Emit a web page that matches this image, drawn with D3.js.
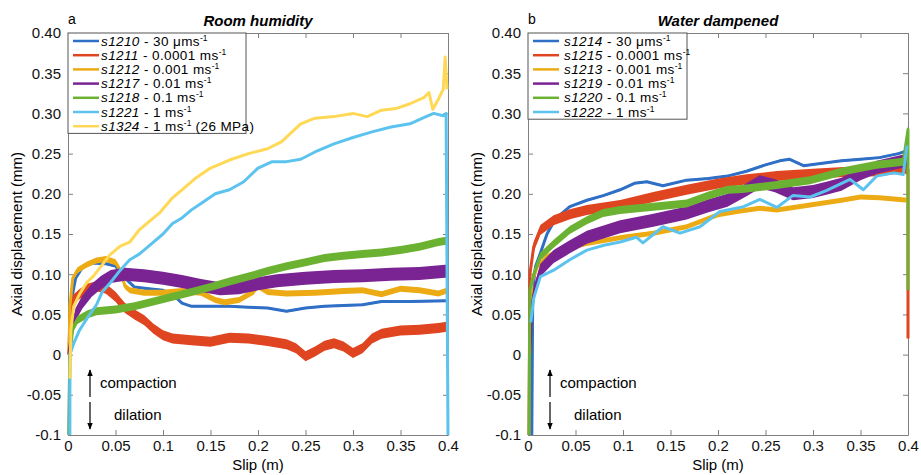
<!DOCTYPE html>
<html>
<head>
<meta charset="utf-8">
<script src="https://cdn.jsdelivr.net/npm/d3@7"></script>
<style>
  body { margin: 0; background: #fff; }
  svg { font-family: "Liberation Sans", Arial, Helvetica, sans-serif; }
</style>
</head>
<body>
<svg id="chart" width="921" height="475"></svg>
<script>
// ---- axis ticks ----
const xTicks = [0, 0.05, 0.1, 0.15, 0.2, 0.25, 0.3, 0.35, 0.4];
const xTickLabels = ["0", "0.05", "0.1", "0.15", "0.2", "0.25", "0.3", "0.35", "0.4"];
const yTicks = [-0.1, -0.05, 0, 0.05, 0.1, 0.15, 0.2, 0.25, 0.3, 0.35, 0.4];
const yTickLabels = ["-0.1", "-0.05", "0", "0.05", "0.10", "0.15", "0.20", "0.25", "0.30", "0.35", "0.40"];

// ---- panel a: room humidity  [slip (m), axial displacement (mm)] ----
const s1210 = [[0.001,-0.1],[0.002,0.03],[0.004,0.07],[0.008,0.095],[0.015,0.108],[0.025,0.114],[0.04,0.113],[0.05,0.11],[0.06,0.095],[0.07,0.084],[0.085,0.082],[0.1,0.08],[0.11,0.075],[0.12,0.064],[0.13,0.06],[0.15,0.06],[0.17,0.06],[0.19,0.059],[0.21,0.058],[0.23,0.054],[0.25,0.058],[0.27,0.06],[0.29,0.061],[0.31,0.062],[0.33,0.066],[0.36,0.066],[0.4,0.067]];
const s1211 = [[0.001,0],[0.002,0.05],[0.005,0.068],[0.012,0.075],[0.02,0.082],[0.03,0.085],[0.04,0.082],[0.05,0.072],[0.06,0.058],[0.07,0.05],[0.08,0.043],[0.09,0.032],[0.1,0.024],[0.11,0.02],[0.13,0.018],[0.15,0.016],[0.17,0.021],[0.19,0.02],[0.21,0.017],[0.23,0.013],[0.24,0.008],[0.25,-0.002],[0.26,0.004],[0.27,0.011],[0.28,0.014],[0.29,0.01],[0.3,0.002],[0.31,0.008],[0.32,0.02],[0.33,0.026],[0.35,0.03],[0.37,0.031],[0.39,0.033],[0.4,0.035]];
const s1212 = [[0.001,0],[0.002,0.06],[0.005,0.095],[0.01,0.105],[0.02,0.112],[0.03,0.117],[0.04,0.119],[0.05,0.115],[0.055,0.105],[0.06,0.085],[0.065,0.08],[0.08,0.077],[0.1,0.077],[0.12,0.079],[0.14,0.077],[0.155,0.068],[0.165,0.065],[0.18,0.068],[0.195,0.078],[0.2,0.085],[0.21,0.078],[0.23,0.076],[0.26,0.077],[0.29,0.079],[0.31,0.08],[0.33,0.075],[0.35,0.082],[0.37,0.08],[0.39,0.076],[0.4,0.08]];
const s1217 = [[0.001,0],[0.004,0.03],[0.008,0.05],[0.015,0.065],[0.025,0.08],[0.035,0.09],[0.045,0.097],[0.06,0.1],[0.08,0.098],[0.1,0.095],[0.12,0.091],[0.14,0.086],[0.16,0.082],[0.18,0.083],[0.2,0.088],[0.22,0.092],[0.25,0.095],[0.28,0.097],[0.31,0.098],[0.34,0.1],[0.37,0.101],[0.4,0.104]];
const s1218 = [[0.001,-0.1],[0.002,0],[0.005,0.032],[0.01,0.043],[0.02,0.05],[0.03,0.054],[0.05,0.056],[0.07,0.06],[0.09,0.066],[0.11,0.072],[0.13,0.078],[0.15,0.084],[0.17,0.091],[0.19,0.097],[0.21,0.104],[0.23,0.11],[0.25,0.115],[0.27,0.12],[0.29,0.123],[0.31,0.125],[0.33,0.127],[0.35,0.13],[0.37,0.134],[0.39,0.14],[0.4,0.142]];
const s1221 = [[0.002,-0.1],[0.002,0],[0.006,0.014],[0.012,0.03],[0.02,0.045],[0.03,0.062],[0.036,0.078],[0.045,0.09],[0.055,0.105],[0.065,0.118],[0.075,0.125],[0.085,0.135],[0.1,0.15],[0.11,0.163],[0.12,0.17],[0.13,0.18],[0.14,0.188],[0.155,0.2],[0.17,0.205],[0.185,0.215],[0.2,0.232],[0.215,0.24],[0.23,0.24],[0.245,0.243],[0.26,0.252],[0.28,0.262],[0.3,0.27],[0.32,0.277],[0.34,0.283],[0.36,0.287],[0.375,0.295],[0.385,0.3],[0.395,0.297],[0.398,0.3],[0.4,-0.1]];
const s1324 = [[0.002,-0.03],[0.003,0.03],[0.006,0.06],[0.012,0.075],[0.02,0.09],[0.027,0.098],[0.035,0.11],[0.044,0.124],[0.055,0.135],[0.065,0.14],[0.075,0.155],[0.085,0.165],[0.097,0.177],[0.11,0.195],[0.12,0.205],[0.135,0.22],[0.15,0.232],[0.17,0.242],[0.19,0.25],[0.21,0.256],[0.225,0.265],[0.235,0.276],[0.245,0.287],[0.26,0.294],[0.28,0.296],[0.3,0.3],[0.315,0.296],[0.33,0.304],[0.345,0.306],[0.36,0.312],[0.375,0.32],[0.38,0.326],[0.384,0.305],[0.39,0.318],[0.395,0.33],[0.397,0.37],[0.399,0.33]];

const roomNames = ["s1210", "s1211", "s1212", "s1217", "s1218", "s1221", "s1324"];
const roomRates = ["30 μms", "0.0001 ms", "0.001 ms", "0.01 ms", "0.1 ms", "1 ms", "1 ms"];
const roomNotes = ["", "", "", "", "", "", " (26 MPa)"];
const roomSeries = [s1210, s1211, s1212, s1217, s1218, s1221, s1324];

// ---- panel b: water dampened ----
const s1214 = [[0.004,-0.1],[0.005,0.08],[0.008,0.11],[0.013,0.126],[0.02,0.15],[0.027,0.165],[0.035,0.175],[0.044,0.184],[0.062,0.192],[0.08,0.198],[0.097,0.205],[0.112,0.213],[0.125,0.215],[0.142,0.21],[0.167,0.217],[0.19,0.219],[0.21,0.222],[0.23,0.228],[0.25,0.236],[0.265,0.241],[0.275,0.243],[0.29,0.235],[0.31,0.238],[0.33,0.241],[0.35,0.243],[0.37,0.245],[0.39,0.25],[0.4,0.254]];
const s1215 = [[0.001,-0.1],[0.002,0.1],[0.006,0.134],[0.013,0.155],[0.027,0.167],[0.045,0.175],[0.062,0.18],[0.097,0.186],[0.132,0.196],[0.167,0.205],[0.202,0.213],[0.23,0.218],[0.262,0.222],[0.3,0.225],[0.332,0.227],[0.37,0.228],[0.395,0.232],[0.4,0.23],[0.4,0.02]];
const s1213 = [[0.002,0],[0.004,0.09],[0.01,0.11],[0.02,0.122],[0.035,0.13],[0.06,0.138],[0.08,0.142],[0.1,0.146],[0.132,0.151],[0.167,0.159],[0.2,0.174],[0.22,0.178],[0.244,0.182],[0.262,0.18],[0.297,0.186],[0.33,0.192],[0.35,0.196],[0.37,0.195],[0.4,0.192]];
const s1219 = [[0.002,0],[0.004,0.06],[0.007,0.08],[0.013,0.105],[0.027,0.122],[0.044,0.134],[0.062,0.146],[0.097,0.159],[0.132,0.167],[0.167,0.176],[0.19,0.185],[0.21,0.192],[0.23,0.205],[0.244,0.215],[0.26,0.21],[0.279,0.2],[0.3,0.203],[0.314,0.207],[0.33,0.212],[0.35,0.225],[0.367,0.233],[0.385,0.238],[0.4,0.242]];
const s1220 = [[0.001,-0.1],[0.002,0.08],[0.006,0.1],[0.013,0.122],[0.027,0.138],[0.044,0.155],[0.062,0.167],[0.079,0.176],[0.097,0.18],[0.132,0.184],[0.167,0.188],[0.19,0.198],[0.21,0.205],[0.226,0.206],[0.262,0.211],[0.297,0.217],[0.332,0.228],[0.367,0.236],[0.395,0.24],[0.4,0.28],[0.4,0.08]];
const s1222 = [[0.003,0.04],[0.006,0.07],[0.013,0.097],[0.027,0.105],[0.044,0.118],[0.062,0.13],[0.08,0.136],[0.097,0.14],[0.114,0.146],[0.121,0.139],[0.142,0.159],[0.16,0.151],[0.181,0.159],[0.202,0.178],[0.227,0.184],[0.244,0.193],[0.262,0.183],[0.279,0.198],[0.297,0.196],[0.314,0.204],[0.339,0.218],[0.353,0.205],[0.367,0.222],[0.385,0.226],[0.395,0.224],[0.399,0.26]];

const waterNames = ["s1214", "s1215", "s1213", "s1219", "s1220", "s1222"];
const waterRates = ["30 μms", "0.0001 ms", "0.001 ms", "0.01 ms", "0.1 ms", "1 ms"];
const waterNotes = ["", "", "", "", "", ""];
const waterSeries = [s1214, s1215, s1213, s1219, s1220, s1222];

// colours (matlab-ish order)
const colors = ["#2f6fc6", "#df4520", "#ecab14", "#7a2392", "#6cb232", "#5cc3ef", "#ffd955"];
// vertical half-height (px) of the noise band around each trace
const roomBands = [1, 5, 3, 6.5, 4, 0.5, 0.5];
const waterBands = [1, 5, 2.5, 6.5, 4, 0];

const svg = d3.select("#chart");
const AXIS_GREY = "#808080";
const FONT = '"Liberation Sans", Arial, sans-serif';

function drawPanel(cfg) {
    const top = 33, bottom = 435, w = 380;
    const x = d3.scaleLinear().domain([0, 0.4]).range([cfg.left, cfg.left + w]);
    const y = d3.scaleLinear().domain([-0.1, 0.4]).range([bottom, top]);
    const g = svg.append("g");

    // axes, ticks pointing inward (matlab box)
    const xb = g.append("g").attr("transform", `translate(0,${bottom})`)
        .call(d3.axisBottom(x).tickValues(xTicks).tickSizeInner(-5).tickSizeOuter(0)
            .tickPadding(5).tickFormat((d, i) => xTickLabels[i]));
    const xt = g.append("g").attr("transform", `translate(0,${top})`)
        .call(d3.axisTop(x).tickValues(xTicks).tickSizeInner(-5).tickSizeOuter(0).tickFormat(""));
    const yl = g.append("g").attr("transform", `translate(${cfg.left},0)`)
        .call(d3.axisLeft(y).tickValues(yTicks).tickSizeInner(-5).tickSizeOuter(0)
            .tickPadding(7).tickFormat((d, i) => yTickLabels[i]));
    const yr = g.append("g").attr("transform", `translate(${cfg.left + w},0)`)
        .call(d3.axisRight(y).tickValues(yTicks).tickSizeInner(-5).tickSizeOuter(0).tickFormat(""));

    [xb, xt, yl, yr].forEach(a => {
        a.select(".domain").attr("stroke", AXIS_GREY);
        a.selectAll(".tick line").attr("stroke", AXIS_GREY);
        a.selectAll(".tick text").attr("fill", "#111").style("font-size", "15px").style("font-family", FONT);
    });

    // clip traces to plot area (a little slack on the sides)
    const clipId = "clip-" + cfg.tag;
    g.append("clipPath").attr("id", clipId).append("rect")
        .attr("x", cfg.left - 4).attr("y", top).attr("width", w + 8).attr("height", bottom - top);

    const line = d3.line().x(d => x(d[0])).y(d => y(d[1]));
    const traces = g.append("g").attr("clip-path", `url(#${clipId})`);
    cfg.series.forEach((s, i) => {
        const hw = cfg.bands[i];
        if (hw > 0.5) {
            const band = d3.area().x(d => x(d[0])).y0(d => y(d[1]) + hw).y1(d => y(d[1]) - hw);
            traces.append("path").attr("d", band(s)).attr("fill", colors[i]);
        }
        traces.append("path").attr("d", line(s))
            .attr("fill", "none").attr("stroke", colors[i])
            .attr("stroke-width", 3).attr("stroke-linejoin", "round");
    });

    // labels
    g.append("text").attr("x", cfg.left).attr("y", 24).style("font-size", "14px").text(cfg.letter);
    g.append("text").attr("x", cfg.left + w / 2).attr("y", 26).attr("text-anchor", "middle")
        .style("font-size", "15px").style("font-weight", "bold").style("font-style", "italic")
        .text(cfg.title);
    g.append("text").attr("x", cfg.left + w / 2).attr("y", 470).attr("text-anchor", "middle")
        .style("font-size", "15px").text("Slip (m)");
    g.append("text").attr("transform", `translate(${cfg.left - 46},${(top + bottom) / 2}) rotate(-90)`)
        .attr("text-anchor", "middle").style("font-size", "15px").text("Axial displacement (mm)");

    // compaction / dilation arrows
    const ax = cfg.left + 22;
    g.append("defs").append("marker").attr("id", "arr-" + cfg.tag)
        .attr("viewBox", "0 0 10 10").attr("refX", 9).attr("refY", 5)
        .attr("markerWidth", 6).attr("markerHeight", 6).attr("orient", "auto")
        .append("path").attr("d", "M0,1L10,5L0,9Z").attr("fill", "#000");
    g.append("line").attr("x1", ax).attr("x2", ax).attr("y1", 397).attr("y2", 370)
        .attr("stroke", "#000").attr("stroke-width", 1.2).attr("marker-end", `url(#arr-${cfg.tag})`);
    g.append("line").attr("x1", ax).attr("x2", ax).attr("y1", 402).attr("y2", 429)
        .attr("stroke", "#000").attr("stroke-width", 1.2).attr("marker-end", `url(#arr-${cfg.tag})`);
    g.append("text").attr("x", ax + 10).attr("y", 388).style("font-size", "15px").text("compaction");
    g.append("text").attr("x", ax + 24).attr("y", 420).style("font-size", "15px").text("dilation");

    // legend
    const rowH = 14.2;
    const lg = g.append("g");
    lg.append("rect").attr("x", cfg.left).attr("y", top)
        .attr("width", cfg.legendW).attr("height", cfg.series.length * rowH + 1)
        .attr("fill", "#fff").attr("stroke", "#555").attr("stroke-width", 1);
    cfg.names.forEach((name, i) => {
        const cy = top + 8 + i * rowH;
        lg.append("line").attr("x1", cfg.left + 5).attr("x2", cfg.left + cfg.legLine)
            .attr("y1", cy).attr("y2", cy).attr("stroke", colors[i]).attr("stroke-width", 2.5);
        const t = lg.append("text").attr("x", cfg.left + cfg.legText).attr("y", cy + 4.5)
            .style("font-size", "13.5px").style("letter-spacing", "0.4px");
        t.append("tspan").style("font-style", "italic").text(name);
        t.append("tspan").text(" - " + cfg.rates[i]);
        t.append("tspan").attr("dy", -5).style("font-size", "8.5px").style("letter-spacing", "0").text("-1");
        if (cfg.notes[i]) t.append("tspan").attr("dy", 5).text(cfg.notes[i]);
    });
}

drawPanel({tag: "a", left: 68, letter: "a", title: "Room humidity",
    series: roomSeries, names: roomNames, rates: roomRates, notes: roomNotes,
    bands: roomBands, legendW: 178, legLine: 31, legText: 33});
drawPanel({tag: "b", left: 528, letter: "b", title: "Water dampened",
    series: waterSeries, names: waterNames, rates: waterRates, notes: waterNotes,
    bands: waterBands, legendW: 159, legLine: 31, legText: 36});
</script>
</body>
</html>
